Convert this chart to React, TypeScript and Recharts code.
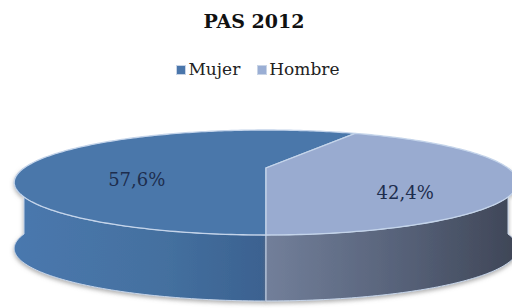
import React from "react";
import { PieChart, Pie, Cell } from "recharts";

const title = "PAS 2012";
const categories = ["Mujer", "Hombre"];
const values = [57.6, 42.4];
const valueLabels = ["57,6%", "42,4%"];

const topColors = ["#4a77aa", "#99abd0"];
const sideGradIds = ["sideMujer", "sideHombre"];
const legendColors = ["#4a76ab", "#9aaed4"];

const data = categories.map((name, i) => ({ name, value: values[i], label: valueLabels[i] }));

const SERIF = "'DejaVu Serif', 'Liberation Serif', serif";
const H_RATIO = 48.5 / 242;
const PERSP = 0.276;
const DEPTH = 66;

// perspective projection of a point on the pie's circle
const proj = (cx: number, cy: number, R: number, a: number, f = 1, dy = 0) => {
  const r = (a * Math.PI) / 180;
  const X = f * Math.cos(r);
  const Z = f * Math.sin(r);
  const s = 1 / (1 + PERSP * Z);
  return [cx + R * X * s, cy - R * H_RATIO * Z * s + dy];
};

const arcPts = (cx: number, cy: number, R: number, from: number, to: number, dy = 0) => {
  const pts: number[][] = [];
  const n = Math.max(2, Math.ceil(Math.abs(to - from)));
  for (let j = 0; j <= n; j++) {
    pts.push(proj(cx, cy, R, from + ((to - from) * j) / n, 1, dy));
  }
  return pts;
};

const toPath = (pts: number[][]) => pts.map((p) => `${p[0].toFixed(2)},${p[1].toFixed(2)}`).join(" L");

const Slice3D = (props: any) => {
  const { cx, cy, outerRadius, startAngle, endAngle, index } = props;
  const R = outerRadius;
  const a0 = Math.min(startAngle, endAngle);
  const a1 = Math.max(startAngle, endAngle);
  const i = index ?? 0;

  const sides: Array<[number, number]> = [];
  const ranges: Array<[number, number]> = [[-180, 0], [180, 360], [540, 720]];
  for (const [r0, r1] of ranges) {
    const s = Math.max(a0, r0);
    const e = Math.min(a1, r1);
    if (e > s) sides.push([s, e]);
  }

  const top = `M${cx},${cy} L${toPath(arcPts(cx, cy, R, a0, a1))} Z`;

  return (
    <g>
      {sides.map(([s, e], k) => {
        const upper = arcPts(cx, cy, R, s, e);
        const lower = arcPts(cx, cy, R, e, s, DEPTH);
        const d = `M${toPath(upper)} L${toPath(lower)} Z`;
        return (
          <path
            key={k}
            d={d}
            fill={`url(#${sideGradIds[i]})`}
            stroke="#c4d3e8"
            strokeWidth={1}
            filter="url(#pieShadow)"
          />
        );
      })}
      <path d={top} fill={topColors[i]} stroke="#c4d4ea" strokeWidth={1.3} />
    </g>
  );
};

const renderLabel = (props: any) => {
  const { cx, cy, outerRadius, midAngle, index } = props;
  const [x, y] = proj(cx, cy, outerRadius, midAngle, 0.57);
  return (
    <text
      x={x}
      y={y + 18}
      textAnchor="middle"
      dominantBaseline="central"
      fontFamily={SERIF}
      fontSize={18}
      fill="#1d2d4d"
    >
      {data[index].label}
    </text>
  );
};

export default function App() {
  return (
    <div style={{ position: "absolute", left: 0, top: 0, width: 512, height: 308, background: "#fff" }}>
      <PieChart width={512} height={308} margin={{ top: 0, right: 0, bottom: 0, left: 0 }}>
        <defs>
          <linearGradient id="sideMujer" x1="0" y1="0" x2="1" y2="0">
            <stop offset="0%" stopColor="#4a78ae" />
            <stop offset="60%" stopColor="#44709f" />
            <stop offset="100%" stopColor="#3b6190" />
          </linearGradient>
          <linearGradient id="sideHombre" x1="0" y1="0" x2="1" y2="0">
            <stop offset="0%" stopColor="#727f9a" />
            <stop offset="55%" stopColor="#566178" />
            <stop offset="100%" stopColor="#3e4556" />
          </linearGradient>
          <filter id="pieShadow" x="-10%" y="-10%" width="120%" height="140%">
            <feDropShadow dx="0" dy="2" stdDeviation="2" floodColor="#777" floodOpacity="0.6" />
          </filter>
        </defs>
        <Pie
          data={data}
          dataKey="value"
          nameKey="name"
          cx={266}
          cy={168}
          outerRadius={242}
          startAngle={270}
          endAngle={-90}
          stroke="none"
          isAnimationActive={false}
          labelLine={false}
          label={renderLabel}
          shape={Slice3D}
          activeShape={Slice3D}
          inactiveShape={Slice3D}
        >
          {data.map((d, i) => (
            <Cell key={d.name} fill={topColors[i]} />
          ))}
        </Pie>
      </PieChart>
      <div
        style={{
          position: "absolute",
          left: 0,
          top: 10,
          width: 508,
          textAlign: "center",
          fontFamily: SERIF,
          fontWeight: "bold",
          fontSize: 19,
          lineHeight: "22px",
          color: "#111",
        }}
      >
        {title}
      </div>
      <div
        style={{
          position: "absolute",
          left: 0,
          top: 60,
          width: 512,
          display: "flex",
          justifyContent: "center",
          alignItems: "center",
          fontFamily: SERIF,
          fontSize: 17,
          lineHeight: "19px",
          color: "#222",
          paddingLeft: 4,
          boxSizing: "border-box",
        }}
      >
        {categories.map((c, i) => (
          <div key={c} style={{ display: "flex", alignItems: "center", marginRight: i === 0 ? 17 : 0 }}>
            <span
              style={{
                display: "inline-block",
                width: 8,
                height: 8,
                background: legendColors[i],
                border: "1px solid #c8d4e6",
                marginRight: 2,
              }}
            />
            <span>{c}</span>
          </div>
        ))}
      </div>
    </div>
  );
}
